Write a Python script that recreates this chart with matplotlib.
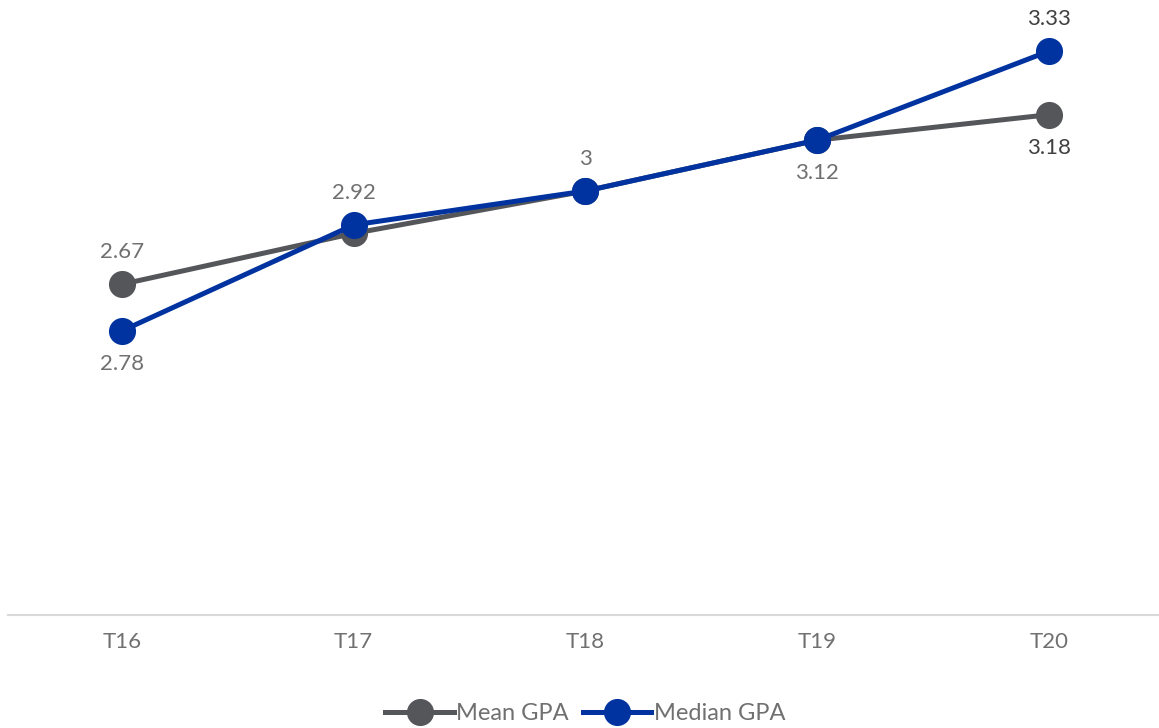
import matplotlib
matplotlib.use('Agg')
import matplotlib.pyplot as plt

plt.rcParams['font.family'] = ['Lato', 'DejaVu Sans']

terms = ['T16', 'T17', 'T18', 'T19', 'T20']
mean_gpa = [2.78, 2.90, 3.00, 3.12, 3.18]
median_gpa = [2.67, 2.92, 3.00, 3.12, 3.33]
# data labels as shown in the chart (above / below the pair of points)
top_labels = ['2.67', '2.92', '3', '', '3.33']
bottom_labels = ['2.78', '', '', '3.12', '3.18']

GREY = '#55565a'
BLUE = '#0033a0'
TXT = '#707070'

fig = plt.figure(figsize=(11.59, 7.28), dpi=100)
ax = fig.add_axes([8/1159, 113/728, 1150/1159, 615/728])

x = range(len(terms))
ax.plot(x, mean_gpa, color=GREY, lw=3.6, marker='o', ms=18.5, label='Mean GPA')
ax.plot(x, median_gpa, color=BLUE, lw=3.6, marker='o', ms=18.5, label='Median GPA')

ax.set_xlim(-0.491, 4.47)
ax.set_ylim(2.0, 2.0 + 615/424)

for i in x:
    hi = max(mean_gpa[i], median_gpa[i])
    lo = min(mean_gpa[i], median_gpa[i])
    last = i == len(terms) - 1
    kw = dict(ha='center', va='center', fontsize=16, textcoords='offset pixels',
              color='#404040' if last else TXT)
    if top_labels[i]:
        ax.annotate(top_labels[i], (i, hi), xytext=(0, 32), **kw)
    if bottom_labels[i]:
        ax.annotate(bottom_labels[i], (i, lo), xytext=(0, -33), **kw)

ax.set_xticks(list(x))
ax.set_xticklabels(terms, fontsize=16, color=TXT)
ax.tick_params(axis='x', length=0, pad=12)
ax.set_yticks([])
for s in ['top', 'right', 'left']:
    ax.spines[s].set_visible(False)
ax.spines['bottom'].set_color('#d9d9d9')
ax.spines['bottom'].set_linewidth(1.5)

leg = fig.legend(loc='lower center', ncol=2, frameon=False, fontsize=17,
                 bbox_to_anchor=(0.505, -0.024), handlelength=2.9,
                 handletextpad=0.1, columnspacing=0.6)
for t in leg.get_texts():
    t.set_color(TXT)

fig.savefig('out.png', dpi=100)
